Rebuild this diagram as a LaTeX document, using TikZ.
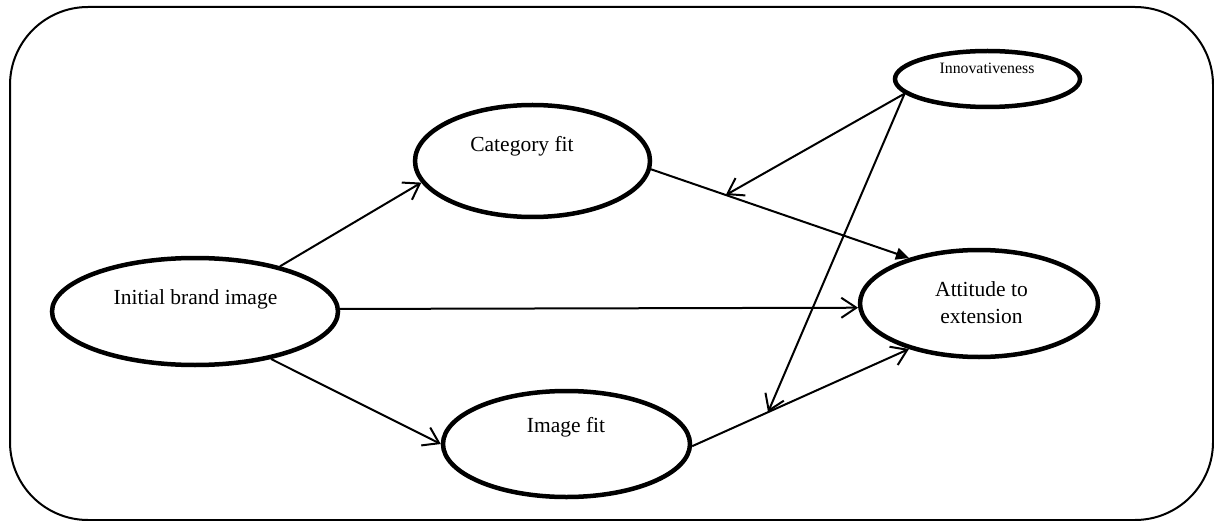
\documentclass[tikz,border=0pt]{standalone}
\usepackage{fontspec}
\setmainfont{Liberation Serif}
\usetikzlibrary{shapes.geometric,arrows.meta}

\tikzset{
  construct/.style={ellipse, draw, line width=4.5pt, inner sep=0pt},
  lbl/.style={anchor=base, inner sep=0pt, font=\fontsize{21.5}{27}\selectfont, align=center},
  smalllbl/.style={anchor=base, inner sep=0pt, font=\fontsize{15.8}{19}\selectfont},
  path/.style={line width=2pt, -{Straight Barb[length=15pt,width=20pt,line width=2pt]}},
  solidpath/.style={line width=2pt, -{Triangle[length=13pt,width=12pt]}},
  frame/.style={draw, line width=2pt, rounded corners=78pt}
}

\begin{document}
\begin{tikzpicture}[x=1pt,y=1pt]
\useasboundingbox (0,0) rectangle (1214,-521);

% outer frame
\path[frame] (10,-7) rectangle (1213,-520);

% constructs
\node[construct, minimum width=286pt, minimum height=107pt] (ibi) at (195,-311.5) {};
\node[construct, minimum width=235pt, minimum height=112pt] (cat) at (532.5,-161) {};
\node[construct, minimum width=185pt, minimum height=56pt]  (inn) at (987.5,-79) {};
\node[construct, minimum width=238pt, minimum height=107pt] (att) at (979,-303.5) {};
\node[construct, minimum width=247pt, minimum height=106pt] (img) at (566.5,-444) {};

% labels
\node[lbl] (ibi-t) at (195.5,-304) {Initial brand image};
\node[lbl] (cat-t) at (522,-152) {Category fit};
\node[smalllbl] (inn-t) at (987,-74) {Innovativeness};
\node[lbl] (att-t1) at (981.5,-296) {Attitude to};
\node[lbl] (att-t2) at (981.5,-323) {extension};
\node[lbl] (img-t) at (566,-432) {Image fit};

% direct paths
\draw[path] (ibi.28) -- (cat.191);
\draw[path] (ibi.1) -- (att.182);
\draw[path] (ibi.328) -- (img.180);
\draw[solidpath] (cat.356.6) -- (att.147)
  coordinate[pos=0.29] (m1);
\draw[path] (img.359) -- (att.213.6)
  coordinate[pos=0.35] (m2);

% moderating effects of innovativeness
\draw[path] (inn.190.4) -- (m1);
\draw[path] (inn.190.4) -- (m2);
\end{tikzpicture}
\end{document}
